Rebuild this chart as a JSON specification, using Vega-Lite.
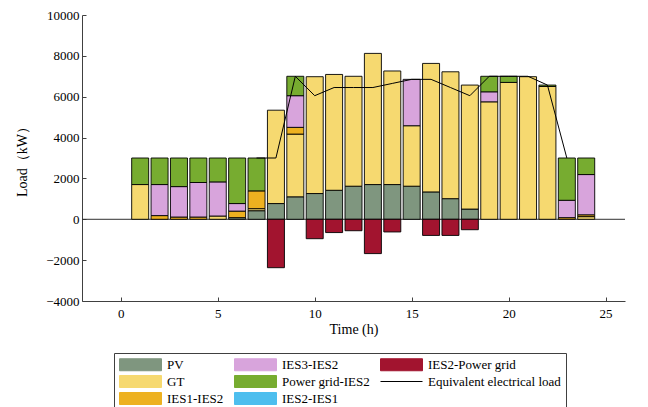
{
  "$schema": "https://vega.github.io/schema/vega-lite/v6.json",
  "width": 543,
  "height": 286,
  "autosize": {"type": "none"},
  "padding": {"left": 82, "top": 15, "right": 23, "bottom": 106},
  "config": {
    "view": {"stroke": null},
    "font": "Liberation Serif",
    "axis": {
      "domainColor": "#404040",
      "tickColor": "#404040",
      "labelColor": "#000000",
      "labelFont": "Liberation Serif",
      "labelFontSize": 13,
      "titleFont": "Liberation Serif",
      "titleFontSize": 14,
      "titleFontWeight": "normal",
      "titleColor": "#000000",
      "grid": false
    }
  },
  "datasets": {
    "bars": [
      {"h": 1, "s": "GT", "v": 1700}, {"h": 1, "s": "Power grid-IES2", "v": 1300},
      {"h": 2, "s": "IES1-IES2", "v": 180}, {"h": 2, "s": "IES3-IES2", "v": 1520}, {"h": 2, "s": "Power grid-IES2", "v": 1300},
      {"h": 3, "s": "IES1-IES2", "v": 110}, {"h": 3, "s": "IES3-IES2", "v": 1490}, {"h": 3, "s": "Power grid-IES2", "v": 1400},
      {"h": 4, "s": "IES1-IES2", "v": 110}, {"h": 4, "s": "IES3-IES2", "v": 1690}, {"h": 4, "s": "Power grid-IES2", "v": 1200},
      {"h": 5, "s": "GT", "v": 160}, {"h": 5, "s": "IES3-IES2", "v": 1670}, {"h": 5, "s": "Power grid-IES2", "v": 1170},
      {"h": 6, "s": "PV", "v": 80}, {"h": 6, "s": "IES1-IES2", "v": 320}, {"h": 6, "s": "IES3-IES2", "v": 370}, {"h": 6, "s": "Power grid-IES2", "v": 2230},
      {"h": 7, "s": "PV", "v": 420}, {"h": 7, "s": "GT", "v": 100}, {"h": 7, "s": "IES1-IES2", "v": 870}, {"h": 7, "s": "Power grid-IES2", "v": 1610},
      {"h": 8, "s": "PV", "v": 770}, {"h": 8, "s": "GT", "v": 4570}, {"h": 8, "s": "IES2-Power grid", "v": -2370},
      {"h": 9, "s": "PV", "v": 1100}, {"h": 9, "s": "GT", "v": 3070}, {"h": 9, "s": "IES1-IES2", "v": 330}, {"h": 9, "s": "IES3-IES2", "v": 1550}, {"h": 9, "s": "Power grid-IES2", "v": 950},
      {"h": 10, "s": "PV", "v": 1260}, {"h": 10, "s": "GT", "v": 5720}, {"h": 10, "s": "IES2-Power grid", "v": -950},
      {"h": 11, "s": "PV", "v": 1420}, {"h": 11, "s": "GT", "v": 5670}, {"h": 11, "s": "IES2-Power grid", "v": -650},
      {"h": 12, "s": "PV", "v": 1620}, {"h": 12, "s": "GT", "v": 5380}, {"h": 12, "s": "IES2-Power grid", "v": -560},
      {"h": 13, "s": "PV", "v": 1700}, {"h": 13, "s": "GT", "v": 6420}, {"h": 13, "s": "IES2-Power grid", "v": -1680},
      {"h": 14, "s": "PV", "v": 1700}, {"h": 14, "s": "GT", "v": 5560}, {"h": 14, "s": "IES2-Power grid", "v": -620},
      {"h": 15, "s": "PV", "v": 1620}, {"h": 15, "s": "GT", "v": 2960}, {"h": 15, "s": "IES3-IES2", "v": 2270},
      {"h": 16, "s": "PV", "v": 1340}, {"h": 16, "s": "GT", "v": 6290}, {"h": 16, "s": "IES2-Power grid", "v": -790},
      {"h": 17, "s": "PV", "v": 1010}, {"h": 17, "s": "GT", "v": 6210}, {"h": 17, "s": "IES2-Power grid", "v": -790},
      {"h": 18, "s": "PV", "v": 500}, {"h": 18, "s": "GT", "v": 6070}, {"h": 18, "s": "IES2-Power grid", "v": -510},
      {"h": 19, "s": "GT", "v": 5750}, {"h": 19, "s": "IES3-IES2", "v": 490}, {"h": 19, "s": "Power grid-IES2", "v": 760},
      {"h": 20, "s": "GT", "v": 6700}, {"h": 20, "s": "Power grid-IES2", "v": 300},
      {"h": 21, "s": "GT", "v": 6980},
      {"h": 22, "s": "GT", "v": 6500}, {"h": 22, "s": "Power grid-IES2", "v": 70},
      {"h": 23, "s": "IES1-IES2", "v": 80}, {"h": 23, "s": "IES3-IES2", "v": 850}, {"h": 23, "s": "Power grid-IES2", "v": 2070},
      {"h": 24, "s": "GT", "v": 130}, {"h": 24, "s": "IES1-IES2", "v": 90}, {"h": 24, "s": "IES3-IES2", "v": 1970}, {"h": 24, "s": "Power grid-IES2", "v": 810}
    ],
    "load": [
      {"h": 7, "s": "Equivalent electrical load", "v": 3000},
      {"h": 8, "s": "Equivalent electrical load", "v": 3000},
      {"h": 9, "s": "Equivalent electrical load", "v": 7000},
      {"h": 10, "s": "Equivalent electrical load", "v": 6050},
      {"h": 11, "s": "Equivalent electrical load", "v": 6450},
      {"h": 12, "s": "Equivalent electrical load", "v": 6450},
      {"h": 13, "s": "Equivalent electrical load", "v": 6450},
      {"h": 14, "s": "Equivalent electrical load", "v": 6650},
      {"h": 15, "s": "Equivalent electrical load", "v": 6850},
      {"h": 16, "s": "Equivalent electrical load", "v": 6850},
      {"h": 17, "s": "Equivalent electrical load", "v": 6450},
      {"h": 18, "s": "Equivalent electrical load", "v": 6050},
      {"h": 19, "s": "Equivalent electrical load", "v": 7000},
      {"h": 20, "s": "Equivalent electrical load", "v": 7000},
      {"h": 21, "s": "Equivalent electrical load", "v": 7000},
      {"h": 22, "s": "Equivalent electrical load", "v": 6570},
      {"h": 23, "s": "Equivalent electrical load", "v": 3000}
    ]
  },
  "layer": [
    {
      "data": {"values": [{"z": 0}]},
      "mark": {"type": "rule", "color": "#303030", "strokeWidth": 1},
      "encoding": {"y": {"field": "z", "type": "quantitative", "scale": {"domain": [-4000, 10000]}}}
    },
    {
      "data": {"name": "bars"},
      "transform": [
        {"calculate": "indexof(['PV','GT','IES1-IES2','IES3-IES2','Power grid-IES2','IES2-IES1','IES2-Power grid'], datum.s)", "as": "o"}
      ],
      "mark": {"type": "bar", "size": 17, "stroke": "#000000", "strokeWidth": 0.9},
      "encoding": {
        "x": {
          "field": "h", "type": "quantitative",
          "scale": {"domain": [0, 25]},
          "axis": {"values": [0, 5, 10, 15, 20, 25], "title": "Time (h)", "tickSize": -4, "labelPadding": 10, "titlePadding": 2}
        },
        "y": {
          "field": "v", "type": "quantitative", "stack": "zero",
          "scale": {"domain": [-4000, 10000]},
          "axis": {"values": [-4000, -2000, 0, 2000, 4000, 6000, 8000, 10000], "format": "d", "title": "Load（kW）", "tickSize": -4, "labelPadding": 7, "titlePadding": 16}
        },
        "color": {
          "field": "s", "type": "nominal",
          "scale": {
            "domain": ["PV", "GT", "IES1-IES2", "IES3-IES2", "Power grid-IES2", "IES2-IES1", "IES2-Power grid", "Equivalent electrical load"],
            "range": ["#7f967f", "#f6d970", "#edb120", "#d8a4dc", "#77ac30", "#4dbeee", "#a2142f", "#000000"]
          },
          "legend": {
            "orient": "none",
            "legendX": 32,
            "legendY": 338,
            "columns": 3,
            "direction": "vertical",
            "gridAlign": "each",
            "title": null,
            "symbolType": "M-1,-1H6V1H-1Z",
            "symbolSize": 144,
            "symbolStrokeColor": "#000000",
            "symbolStrokeWidth": 1,
            "labelOffset": 35,
            "labelFont": "Liberation Serif",
            "labelFontSize": 13,
            "labelColor": "#000000",
            "strokeColor": "#404040",
            "padding": 5,
            "rowPadding": 0,
            "columnPadding": 8,
            "encode": {
              "symbols": {
                "update": {
                  "shape": {"signal": "datum.value === 'Equivalent electrical load' ? 'M-1,0H6' : 'M-1,-1H6V1H-1Z'"},
                  "fill": {"signal": "datum.value === 'Equivalent electrical load' ? 'transparent' : scale('color', datum.value)"},
                  "stroke": {"signal": "datum.value === 'Equivalent electrical load' ? '#555555' : '#000000'"},
                  "strokeWidth": {"value": 1},
                  "opacity": {"value": 1}
                }
              }
            }
          }
        },
        "order": {"field": "o", "type": "quantitative"}
      }
    },
    {
      "data": {"name": "load"},
      "mark": {"type": "line", "strokeWidth": 1},
      "encoding": {
        "x": {"field": "h", "type": "quantitative"},
        "y": {"field": "v", "type": "quantitative"},
        "color": {"field": "s", "type": "nominal"}
      }
    }
  ]
}
